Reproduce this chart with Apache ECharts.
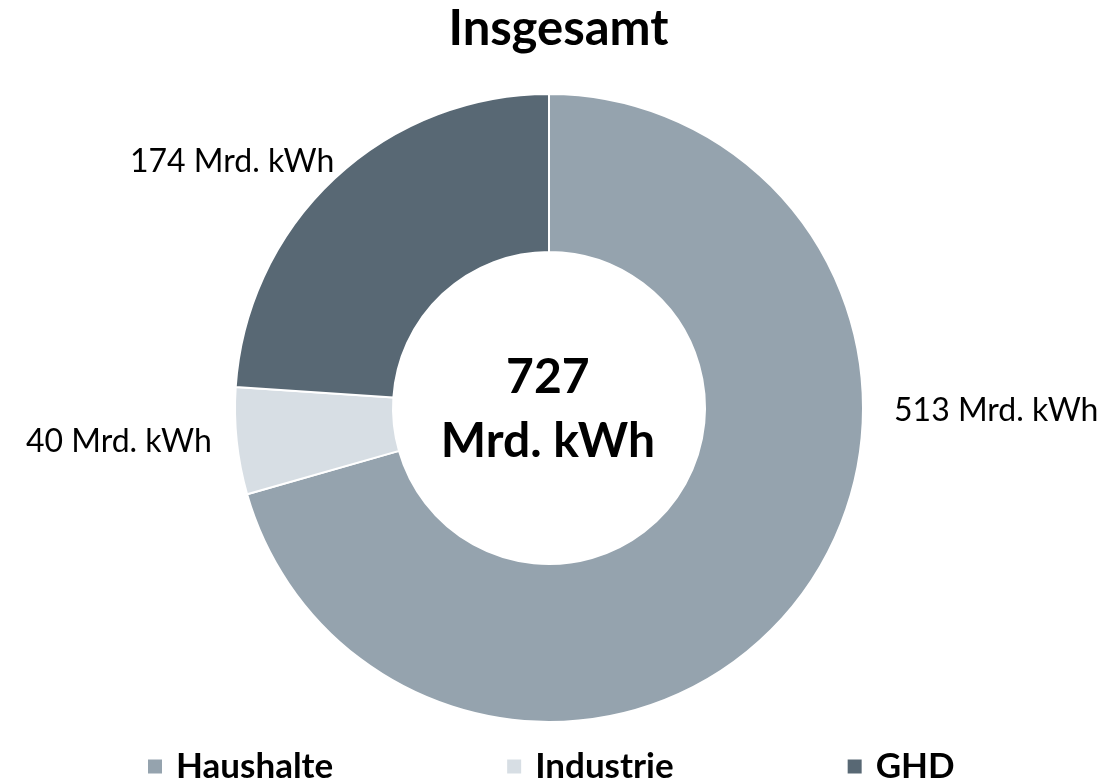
<!DOCTYPE html>
<html>
<head>
<meta charset="utf-8">
<script src="https://cdn.jsdelivr.net/npm/echarts@6/dist/echarts.min.js"></script>
<style>
  html, body { margin: 0; padding: 0; background: #fff; }
  #chart { width: 1117px; height: 783px; }
</style>
</head>
<body>
<div id="chart"></div>
<script>
// Stromverbrauch nach Sektoren (Mrd. kWh)
const categories = ['Haushalte', 'Industrie', 'GHD'];
const values = [513, 40, 174];
const colors = ['#95a3ae', '#d7dee4', '#586874'];
const unit = 'Mrd. kWh';
const titleText = 'Insgesamt';

const total = values.reduce((a, b) => a + b, 0);
const fontFamily = 'Lato, "Open Sans", sans-serif';

const chart = echarts.init(document.getElementById('chart'));

chart.setOption({
  animation: false,
  color: colors,
  title: [
    {
      text: titleText,
      left: 'center',
      top: 0,
      textStyle: { fontFamily, fontSize: 49, fontWeight: 'bold', color: '#000' }
    },
    {
      // Summe in der Mitte des Rings
      text: total + '\n' + unit,
      left: '48.6%',
      top: '51.7%',
      textAlign: 'center',
      textVerticalAlign: 'middle',
      textStyle: { fontFamily, fontSize: 48, fontWeight: 'bold', color: '#000', lineHeight: 64 }
    }
  ],
  legend: {
    data: categories,
    bottom: -6,
    left: 141,
    itemWidth: 16,
    itemHeight: 16,
    itemGap: 172,
    icon: 'rect',
    textStyle: { fontFamily, fontSize: 35, fontWeight: 'bold', color: '#000', padding: [0, 0, 0, 8] }
  },
  series: [{
    type: 'pie',
    center: ['49.15%', '52.1%'],
    radius: [156, 314],
    startAngle: 90,
    clockwise: true,
    avoidLabelOverlap: false,
    itemStyle: { borderColor: '#fff', borderWidth: 2 },
    label: {
      show: true,
      position: 'outside',
      formatter: p => p.value + ' ' + unit,
      fontFamily,
      fontSize: 32,
      color: '#000'
    },
    labelLine: { show: false, length: 6, length2: 0 },
    emphasis: { disabled: true },
    labelLayout: function (p) {
      // Beschriftungen wie im Original leicht verschoben
      if (p.dataIndex === 0) {
        return {
          x: p.rect.x + p.rect.width + 30,
          y: p.rect.y + p.rect.height / 2 + 3,
          align: 'left',
          verticalAlign: 'middle'
        };
      }
      if (p.dataIndex === 1) return { dx: -14, dy: 0 };
      return { dx: 9, dy: -13 };
    },
    data: categories.map((name, i) => ({ name, value: values[i] }))
  }]
});
</script>
</body>
</html>
